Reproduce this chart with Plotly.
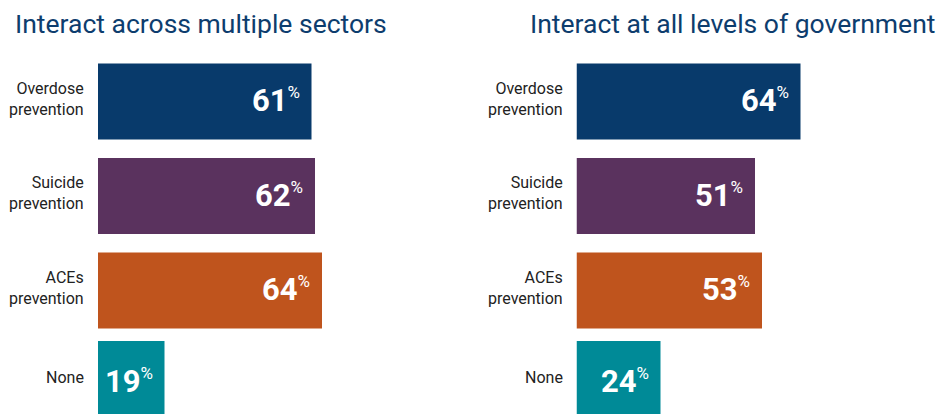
import plotly.graph_objects as go

# Survey results: share of respondents by prevention focus
categories = ["Overdose<br>prevention", "Suicide<br>prevention", "ACEs<br>prevention", "None"]
sectors_values = [61, 62, 64, 19]
government_values = [64, 51, 53, 24]
panel_titles = ["Interact across multiple sectors", "Interact at all levels of government"]
bar_colors = ["#083a6b", "#5a325e", "#bf541d", "#008a97"]

W, H = 940, 414
positions = list(range(len(categories)))
bar_widths = [0.804, 0.804, 0.804, 0.93]
label_lift = [3, 3, 3, 8]

fig = go.Figure()

panels = [
    (sectors_values, "x", "y", 13),
    (government_values, "x2", "y2", 528),
]

px_per_unit = 3.5
x_max = 100
for (vals, xa, ya, tx), title in zip(panels, panel_titles):
    fig.add_trace(go.Bar(
        x=vals, y=positions, orientation="h",
        marker=dict(color=bar_colors, line=dict(width=0)),
        width=bar_widths, xaxis=xa, yaxis=ya, hoverinfo="skip",
    ))
    for v, p, cat, lift in zip(vals, positions, categories, label_lift):
        # value label inside the bar end
        fig.add_annotation(
            x=v, y=p, xref=xa, yref=ya, xanchor="right", yanchor="middle",
            xshift=-10, yshift=1 if p < 3 else 4, showarrow=False,
            text=f"<b>{v}</b><sup><span style='font-size:17px'>%</span></sup>",
            font=dict(family="Roboto", size=31, color="white"),
        )
        # category label left of the bar
        fig.add_annotation(
            x=0, y=p, xref=xa, yref=ya, xanchor="right", yanchor="middle",
            xshift=-12, yshift=lift, showarrow=False, align="right",
            text=cat, font=dict(family="Roboto", size=16, color="#222222"),
        )
    fig.add_annotation(
        x=tx / W, y=1 - 23 / H, xref="paper", yref="paper", xanchor="left", yanchor="middle",
        showarrow=False, text=title,
        font=dict(family="Roboto", size=26.5, color="#0d3d6e"),
    )

top_px = 50
plot_h = H - top_px
pitch = 94.5
y_top = -(101.5 - top_px) / pitch
y_bot = y_top + plot_h / pitch

yaxis_common = dict(
    range=[y_bot, y_top], showticklabels=False,
    showgrid=False, zeroline=False, showline=False, ticks="",
    domain=[0, 1 - top_px / H],
)

fig.update_layout(
    width=W, height=H, margin=dict(l=0, r=0, t=0, b=0),
    paper_bgcolor="white", plot_bgcolor="white", showlegend=False,
    xaxis=dict(domain=[98 / W, (98 + x_max * px_per_unit) / W], range=[0, x_max],
               visible=False, fixedrange=True),
    xaxis2=dict(domain=[576.5 / W, (576.5 + x_max * px_per_unit) / W], range=[0, x_max],
                visible=False, fixedrange=True),
    yaxis=dict(anchor="x", **yaxis_common),
    yaxis2=dict(anchor="x2", **yaxis_common),
)

fig.write_html("out.html")
